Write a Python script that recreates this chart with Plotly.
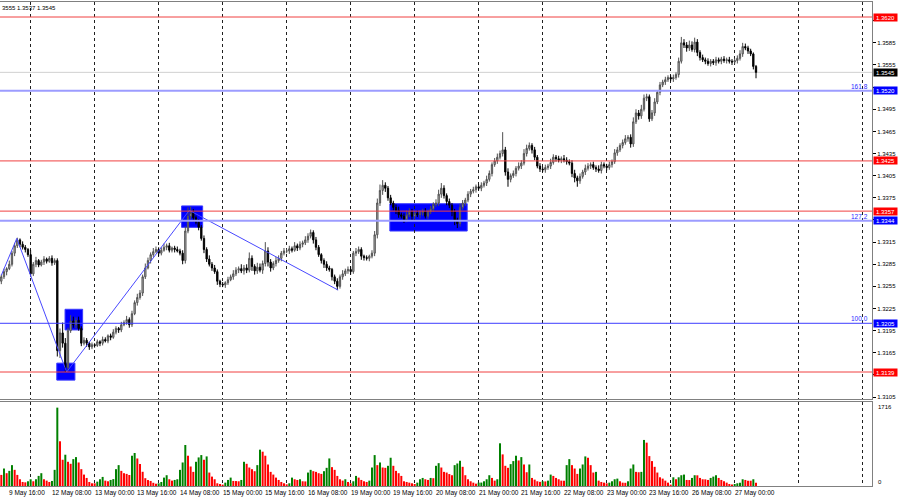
import plotly.graph_objects as go

# ---------------- data (GBPUSD H1) ----------------
# closes per trading day
c_09may = [1.3268, 1.3275, 1.3279, 1.3285, 1.3300, 1.3310, 1.3318, 1.3312, 1.3308, 1.3305, 1.3298]
c_12may = [1.3272, 1.3285, 1.3290, 1.3284, 1.3288, 1.3292, 1.3289, 1.3293, 1.3287, 1.3290, 1.3168, 1.3192,
           1.3178, 1.3145, 1.3195, 1.3208, 1.3203, 1.3209, 1.3198, 1.3178, 1.3182, 1.3178, 1.3173, 1.3176]
c_13may = [1.3175, 1.3180, 1.3178, 1.3183, 1.3181, 1.3188, 1.3186, 1.3193, 1.3198, 1.3196, 1.3203, 1.3206,
           1.3210, 1.3203, 1.3218, 1.3233, 1.3240, 1.3246, 1.3268, 1.3280, 1.3290, 1.3298, 1.3302, 1.3305]
c_14may = [1.3300, 1.3304, 1.3308, 1.3310, 1.3304, 1.3307, 1.3305, 1.3303, 1.3300, 1.3290, 1.3330, 1.3350,
           1.3355, 1.3348, 1.3342, 1.3335, 1.3320, 1.3305, 1.3292, 1.3285, 1.3280, 1.3275, 1.3262, 1.3258]
c_15may = [1.3257, 1.3260, 1.3264, 1.3268, 1.3272, 1.3277, 1.3279, 1.3276, 1.3280, 1.3277, 1.3293, 1.3282,
           1.3276, 1.3281, 1.3277, 1.3286, 1.3303, 1.3288, 1.3280, 1.3286, 1.3290, 1.3293, 1.3300, 1.3303]
c_16may = [1.3303, 1.3306, 1.3304, 1.3310, 1.3307, 1.3312, 1.3314, 1.3318, 1.3323, 1.3328, 1.3318, 1.3308,
           1.3298, 1.3290, 1.3285, 1.3280, 1.3278, 1.3268, 1.3262, 1.3255, 1.3268, 1.3272, 1.3276, 1.3278]
c_19may = [1.3275, 1.3300, 1.3302, 1.3305, 1.3296, 1.3294, 1.3293, 1.3296, 1.3300, 1.3325, 1.3368, 1.3385,
           1.3392, 1.3388, 1.3375, 1.3368, 1.3362, 1.3358, 1.3352, 1.3350, 1.3346, 1.3352, 1.3356, 1.3350]
c_20may = [1.3354, 1.3352, 1.3355, 1.3356, 1.3350, 1.3356, 1.3360, 1.3366, 1.3368, 1.3380, 1.3388, 1.3378,
           1.3370, 1.3365, 1.3356, 1.3345, 1.3340, 1.3362, 1.3368, 1.3372, 1.3380, 1.3384, 1.3386, 1.3390]
c_21may = [1.3388, 1.3392, 1.3395, 1.3400, 1.3408, 1.3420, 1.3425, 1.3430, 1.3435, 1.3440, 1.3410, 1.3400,
           1.3405, 1.3408, 1.3415, 1.3418, 1.3422, 1.3435, 1.3442, 1.3446, 1.3440, 1.3430, 1.3418, 1.3414]
c_22may = [1.3413, 1.3416, 1.3418, 1.3423, 1.3430, 1.3428, 1.3426, 1.3428, 1.3426, 1.3424, 1.3422, 1.3408,
           1.3402, 1.3398, 1.3404, 1.3410, 1.3415, 1.3418, 1.3420, 1.3416, 1.3414, 1.3412, 1.3420, 1.3418]
c_23may = [1.3416, 1.3420, 1.3424, 1.3436, 1.3440, 1.3446, 1.3450, 1.3455, 1.3457, 1.3448, 1.3478, 1.3490,
           1.3486, 1.3495, 1.3510, 1.3512, 1.3482, 1.3490, 1.3505, 1.3518, 1.3528, 1.3532, 1.3535, 1.3538]
c_26may = [1.3536, 1.3538, 1.3542, 1.3560, 1.3585, 1.3582, 1.3578, 1.3582, 1.3576, 1.3586, 1.3572, 1.3565,
           1.3562, 1.3560, 1.3557, 1.3560, 1.3558, 1.3562, 1.3560, 1.3563, 1.3561, 1.3562, 1.3560, 1.3559]
c_27may = [1.3561, 1.3564, 1.3570, 1.3580, 1.3578, 1.3574, 1.3570, 1.3553, 1.3545]
first_open = 1.3262

# upper / lower shadows in pips, per day
up_days = [
    [3, 4, 2, 5, 3, 4, 3, 2, 4, 3, 2],
    [6, 3, 5, 2, 3, 4, 2, 3, 4, 3, 3, 6, 14, 7, 4, 8, 6, 4, 5, 3, 4, 3, 2, 3],
    [2, 3, 2, 4, 3, 2, 3, 4, 3, 2, 4, 3, 5, 3, 4, 3, 5, 4, 3, 6, 4, 3, 5, 4],
    [3, 4, 5, 3, 4, 2, 3, 4, 3, 4, 6, 12, 8, 5, 3, 4, 3, 4, 3, 5, 3, 4, 3, 2],
    [3, 2, 4, 3, 5, 4, 3, 6, 4, 5, 8, 4, 3, 6, 5, 4, 12, 5, 4, 3, 5, 4, 3, 4],
    [3, 4, 3, 5, 3, 4, 3, 5, 4, 4, 3, 4, 3, 2, 3, 4, 3, 2, 3, 4, 3, 5, 3, 4],
    [4, 3, 5, 4, 3, 2, 3, 2, 4, 5, 6, 8, 7, 4, 3, 4, 3, 4, 5, 3, 4, 6, 5, 4],
    [3, 4, 3, 4, 5, 3, 4, 3, 5, 6, 7, 4, 3, 4, 3, 4, 3, 5, 4, 3, 4, 3, 4, 3],
    [3, 4, 3, 5, 4, 3, 4, 5, 4, 24, 4, 5, 3, 4, 3, 5, 4, 6, 5, 4, 3, 4, 3, 4],
    [3, 4, 3, 5, 4, 3, 4, 3, 5, 4, 3, 4, 5, 3, 4, 3, 5, 4, 3, 4, 3, 5, 4, 3],
    [3, 4, 3, 5, 4, 3, 4, 5, 3, 4, 6, 5, 4, 6, 5, 4, 3, 4, 5, 3, 4, 3, 4, 3],
    [3, 4, 3, 5, 8, 5, 4, 6, 5, 6, 4, 3, 4, 3, 4, 3, 3, 4, 3, 3, 4, 3, 4, 3],
    [3, 4, 5, 5, 4, 3, 3, 2, 2],
]
dn_days = [
    [4, 3, 5, 2, 3, 4, 3, 4, 3, 4, 3],
    [4, 3, 4, 3, 2, 4, 3, 2, 4, 3, 8, 10, 6, 6, 4, 3, 4, 5, 3, 4, 3, 5, 4, 3],
    [3, 2, 4, 3, 2, 3, 4, 2, 3, 4, 3, 2, 3, 4, 3, 2, 4, 3, 4, 3, 2, 4, 3, 2],
    [4, 3, 2, 4, 3, 3, 4, 2, 3, 5, 4, 3, 4, 5, 3, 4, 3, 5, 4, 3, 4, 3, 5, 4],
    [3, 4, 3, 2, 4, 3, 4, 3, 5, 4, 3, 6, 5, 4, 3, 5, 4, 6, 5, 3, 4, 3, 4, 3],
    [3, 4, 3, 2, 4, 3, 4, 3, 4, 3, 5, 4, 3, 4, 5, 4, 3, 5, 4, 5, 3, 4, 3, 4],
    [4, 3, 4, 3, 5, 4, 3, 4, 3, 4, 5, 4, 6, 5, 4, 3, 4, 5, 4, 3, 5, 4, 3, 6],
    [4, 3, 5, 4, 3, 4, 3, 4, 3, 4, 5, 4, 5, 4, 6, 7, 6, 4, 3, 4, 3, 4, 3, 4],
    [3, 4, 3, 4, 3, 4, 3, 4, 3, 4, 5, 10, 4, 3, 4, 3, 4, 3, 4, 3, 5, 4, 3, 4],
    [3, 4, 3, 4, 3, 4, 3, 4, 3, 4, 3, 5, 6, 8, 4, 3, 4, 3, 4, 3, 4, 3, 4, 3],
    [4, 3, 4, 3, 4, 3, 4, 3, 4, 5, 4, 3, 5, 4, 3, 4, 4, 3, 4, 3, 4, 3, 4, 3],
    [3, 4, 3, 4, 3, 4, 5, 4, 3, 4, 5, 4, 3, 4, 3, 4, 3, 4, 3, 4, 3, 4, 3, 4],
    [3, 4, 3, 4, 3, 4, 3, 4, 8],
]

# tick volumes per day
v_09may = [242, 381, 279, 330, 455, 352, 242, 147, 88, 80, 103]
v_12may = [147, 103, 147, 220, 279, 147, 117, 88, 110, 352, 1708, 975, 572, 682, 528, 484, 586, 630, 513, 367, 249, 176, 88, 59]
v_13may = [59, 95, 147, 198, 117, 103, 132, 150, 367, 455, 330, 279, 264, 240, 660, 720, 600, 480, 310, 170, 130, 110, 70, 50]
v_14may = [59, 88, 183, 235, 147, 117, 132, 147, 352, 513, 894, 660, 425, 308, 528, 623, 674, 572, 645, 293, 205, 147, 59, 44]
v_15may = [30, 73, 132, 183, 110, 108, 103, 132, 528, 484, 403, 367, 323, 455, 792, 748, 660, 469, 308, 249, 183, 132, 88, 59]
v_16may = [37, 59, 183, 147, 132, 147, 103, 100, 293, 352, 323, 308, 279, 264, 323, 396, 601, 411, 352, 220, 147, 117, 147, 88]
v_19may = [59, 103, 220, 183, 132, 103, 88, 117, 403, 674, 455, 513, 403, 396, 440, 616, 440, 330, 279, 220, 103, 88, 73, 59]
v_20may = [44, 73, 147, 176, 147, 132, 176, 170, 440, 498, 403, 308, 293, 260, 235, 455, 491, 550, 418, 235, 147, 103, 73, 51]
v_21may = [73, 75, 103, 147, 235, 176, 117, 147, 931, 689, 440, 396, 477, 543, 660, 557, 630, 469, 300, 469, 176, 139, 103, 90]
v_22may = [103, 100, 117, 249, 220, 176, 147, 117, 115, 455, 586, 455, 381, 264, 381, 469, 645, 616, 455, 293, 308, 117, 88, 73]
v_23may = [59, 73, 103, 147, 161, 103, 73, 70, 103, 381, 469, 308, 300, 308, 1004, 945, 652, 543, 418, 293, 190, 161, 117, 73]
v_26may = [30, 190, 147, 190, 235, 249, 132, 130, 176, 235, 233, 176, 147, 145, 132, 176, 205, 235, 176, 132, 103, 73, 44, 30]
v_27may = [44, 59, 73, 147, 132, 117, 115, 147, 73]

# axis labels (bar index -> text), day boundaries, price ticks
label_bars = [3, 19, 35, 51, 67, 83, 99, 115, 131, 147, 163, 179, 195, 211, 227, 243, 259, 275]
label_text = ["9 May 16:00", "12 May 08:00", "13 May 00:00", "13 May 16:00", "14 May 08:00", "15 May 00:00",
              "15 May 16:00", "16 May 08:00", "19 May 00:00", "19 May 16:00", "20 May 08:00", "21 May 00:00",
              "21 May 16:00", "22 May 08:00", "23 May 00:00", "23 May 16:00", "26 May 08:00", "27 May 00:00"]
day_bounds = [11, 35, 59, 83, 107, 131, 155, 179, 203, 227, 251, 275, 299, 323]
price_ticks = [1.3105, 1.3135, 1.3165, 1.3195, 1.3225, 1.3255, 1.3285, 1.3315, 1.3345, 1.3375, 1.3405,
               1.3435, 1.3465, 1.3495, 1.3525, 1.3555, 1.3585, 1.3615]
vol_max_label = 1716

# chart objects
red_levels = [1.3620, 1.3425, 1.3357, 1.3139]
fib_levels = [1.3520, 1.3344, 1.3205]
fib_names = ["161.8", "127.2", "100.0"]
bid_level = 1.3545
zz_bar = [0, 5.8, 24.5, 70.5, 126.3]
zz_price = [1.3270, 1.3320, 1.3139, 1.3358, 1.3250]
box_bar0 = [20.8, 23.9, 67.6, 145.7]
box_bar1 = [27.6, 30.5, 75.5, 174.7]
box_p0 = [1.3128, 1.3196, 1.3335, 1.3330]
box_p1 = [1.3151, 1.3224, 1.3364, 1.3367]
header_text = "3555 1.3537 1.3545"

# ---------------- assemble ----------------
closes = c_09may + c_12may + c_13may + c_14may + c_15may + c_16may + c_19may + c_20may + \
    c_21may + c_22may + c_23may + c_26may + c_27may
ups = [u for d in up_days for u in d]
dns = [u for d in dn_days for u in d]
vols = v_09may + v_12may + v_13may + v_14may + v_15may + v_16may + v_19may + v_20may + \
    v_21may + v_22may + v_23may + v_26may + v_27may
n = len(closes)
xs = list(range(n))
opens = [first_open] + closes[:-1]
highs = [round(max(o, c) + u * 0.0001, 5) for o, c, u in zip(opens, closes, ups)]
lows = [round(min(o, c) - d * 0.0001, 5) for o, c, d in zip(opens, closes, dns)]
vcol = ["#008000" if i > 0 and vols[i] > vols[i - 1] else "#ff0000" for i in range(n)]

# tick labels hidden behind the level boxes (as on the terminal)
box_levels = red_levels + fib_levels + [bid_level]
tick_text = ["" if min(abs(t - b) for b in box_levels) < 0.0007 else f"{t:.4f}" for t in price_ticks]

FONT = "Liberation Sans, Arial, sans-serif"
W, H = 900, 500
MT, MB, MR = 2, 14, 28
plot_h = H - MT - MB
main_bottom_px = 399
vol_top_px = 402
main_dom = [(H - MB - main_bottom_px) / plot_h, 1]
vol_dom = [0, (H - MB - vol_top_px) / plot_h]
# price scale: 1.3620 at y=17, 1.3139 at y=372
ppx = (1.3620 - 1.3139) / (372 - 17)
y_top = 1.3620 + (17 - MT) * ppx
y_bot = 1.3620 - (main_bottom_px - 17) * ppx
x_rng = [-0.49, 326.5]

fig = go.Figure()

fig.add_trace(go.Candlestick(
    x=xs, open=opens, high=highs, low=lows, close=closes,
    increasing=dict(line=dict(color="#505050", width=1), fillcolor="#c4c4c4"),
    decreasing=dict(line=dict(color="#000000", width=1), fillcolor="#000000"),
    whiskerwidth=0, xaxis="x", yaxis="y", hoverinfo="skip"))

fig.add_trace(go.Scatter(x=zz_bar, y=zz_price, mode="lines",
                         line=dict(color="#4848ff", width=1), xaxis="x", yaxis="y", hoverinfo="skip"))

fig.add_trace(go.Bar(x=xs, y=vols, marker=dict(color=vcol, line=dict(width=0)),
                     xaxis="x2", yaxis="y2", hoverinfo="skip"))

shapes = []
for b0, b1, p0, p1 in zip(box_bar0, box_bar1, box_p0, box_p1):
    shapes.append(dict(type="rect", xref="x", yref="y", x0=b0, x1=b1, y0=p0, y1=p1,
                       fillcolor="#0000ff", line=dict(color="#3a3aff", width=1), layer="below"))
for lv in red_levels:
    shapes.append(dict(type="line", xref="paper", yref="y", x0=0, x1=1, y0=lv, y1=lv,
                       line=dict(color="#f04040", width=1), layer="above"))
for lv, nm in zip(fib_levels, fib_names):
    if nm == "100.0":
        shapes.append(dict(type="line", xref="paper", yref="y", x0=0, x1=1, y0=lv, y1=lv,
                           line=dict(color="#3c3cff", width=1), layer="above"))
    else:
        shapes.append(dict(type="line", xref="paper", yref="y", x0=0, x1=1, y0=lv, y1=lv,
                           line=dict(color="#9c9cff", width=2), layer="above"))
shapes.append(dict(type="line", xref="paper", yref="y", x0=0, x1=1, y0=bid_level, y1=bid_level,
                   line=dict(color="#d0d0d0", width=1), layer="below"))

ann = []
# price boxes on the right axis
for lv in red_levels:
    ann.append(dict(x=1, xref="paper", y=lv, yref="y", xanchor="left", xshift=1, text=f"{lv:.4f}",
                    showarrow=False, bgcolor="#ff0000", font=dict(family=FONT, size=6, color="white"),
                    width=23, height=7, borderpad=0))
for lv, nm in zip(fib_levels, fib_names):
    ann.append(dict(x=1, xref="paper", y=lv, yref="y", xanchor="left", xshift=1, text=f"{lv:.4f}",
                    showarrow=False, bgcolor="#0000ff", font=dict(family=FONT, size=6, color="white"),
                    width=23, height=7, borderpad=0))
    ann.append(dict(x=1, xref="paper", y=lv, yref="y", xanchor="right", yanchor="bottom", xshift=-2,
                    yshift=-1, text=nm, showarrow=False, font=dict(family=FONT, size=6.5, color="#2a2aff")))
ann.append(dict(x=1, xref="paper", y=bid_level, yref="y", xanchor="left", xshift=1, text=f"{bid_level:.4f}",
                showarrow=False, bgcolor="#000000", font=dict(family=FONT, size=6, color="white"),
                width=23, height=7, borderpad=0))
# volume scale
ann.append(dict(x=1, xref="paper", y=vol_max_label, yref="y2", xanchor="left", xshift=4, text=str(vol_max_label),
                showarrow=False, font=dict(family=FONT, size=6, color="black")))
ann.append(dict(x=1, xref="paper", y=0, yref="y2", xanchor="left", xshift=4, yshift=4, text="0",
                showarrow=False, font=dict(family=FONT, size=6, color="black")))
# time labels
for b, t in zip(label_bars, label_text):
    ann.append(dict(x=b, xref="x2", y=0, yref="paper", xanchor="left", yanchor="top", xshift=-2, yshift=-1,
                    text=t, showarrow=False, font=dict(family=FONT, size=6.5, color="black")))
# header
ann.append(dict(x=0, xref="paper", y=1, yref="paper", xanchor="left", yanchor="top", yshift=-1,
                text=header_text, showarrow=False, font=dict(family=FONT, size=6, color="black")))

grid = dict(showgrid=True, gridcolor="#202020", gridwidth=1, griddash="3px,3px")

fig.update_layout(
    width=W, height=H, margin=dict(l=0, r=MR, t=MT, b=MB),
    paper_bgcolor="white", plot_bgcolor="white", showlegend=False, hovermode=False,
    bargap=0.25,
    xaxis=dict(domain=[0, 1], anchor="y", range=x_rng, tickmode="array", tickvals=day_bounds,
               showticklabels=False, ticks="", zeroline=False, showline=True, linecolor="#808080",
               linewidth=1, mirror=True, rangeslider=dict(visible=False), **grid),
    yaxis=dict(domain=main_dom, anchor="x", range=[y_bot, y_top], side="right", tickmode="array",
               tickvals=price_ticks, ticktext=tick_text, ticks="outside", ticklen=3, tickcolor="#000000",
               tickfont=dict(family=FONT, size=6, color="black"), showgrid=False, zeroline=False,
               showline=True, linecolor="#808080", linewidth=1),
    xaxis2=dict(domain=[0, 1], anchor="y2", range=x_rng, matches="x", tickmode="array", tickvals=day_bounds,
                showticklabels=False, ticks="", zeroline=False, showline=True, linecolor="#808080",
                linewidth=1, mirror=True, **grid),
    yaxis2=dict(domain=vol_dom, anchor="x2", range=[0, 1831], side="right", showticklabels=False,
                ticks="", showgrid=False, zeroline=False, showline=True, linecolor="#808080", linewidth=1),
    shapes=shapes, annotations=ann,
)

fig.write_html("out.html", config={"staticPlot": True},
               post_script="document.body.style.margin='0px';document.body.style.padding='0px';")
